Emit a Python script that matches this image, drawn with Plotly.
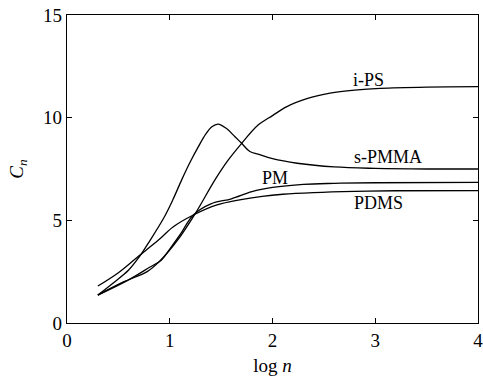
import plotly.graph_objects as go

ips_x = [0.3, 0.55, 0.78, 0.9, 1.1, 1.25, 1.44, 1.57, 1.70, 1.86, 2.0, 2.14, 2.35, 2.56, 2.8, 3.05, 3.5, 4.0]
ips_y = [1.36, 2.0, 2.5, 3.0, 4.2, 5.34, 6.97, 7.94, 8.75, 9.64, 10.1, 10.54, 10.95, 11.19, 11.34, 11.43, 11.49, 11.51]

spmma_x = [0.3, 0.45, 0.6, 0.7, 0.81, 0.94, 1.03, 1.116, 1.2, 1.28, 1.35, 1.41, 1.47, 1.55, 1.635, 1.70, 1.78, 1.86, 2.0, 2.24, 2.6, 3.0, 3.5, 4.0]
spmma_y = [1.36, 1.95, 2.58, 3.2, 4.04, 5.1, 6.0, 6.97, 7.85, 8.6, 9.2, 9.56, 9.69, 9.48, 9.07, 8.75, 8.35, 8.22, 8.0, 7.78, 7.6, 7.53, 7.5, 7.5]

pm_x = [0.3, 0.6, 0.8, 0.92, 1.0, 1.1, 1.23, 1.4, 1.6, 1.8, 2.0, 2.3, 2.6, 3.0, 4.0]
pm_y = [1.36, 2.1, 2.7, 3.07, 3.6, 4.3, 5.26, 5.8, 6.05, 6.4, 6.6, 6.75, 6.8, 6.83, 6.85]

pdms_x = [0.3, 0.5, 0.69, 0.89, 1.035, 1.23, 1.46, 1.68, 1.9, 2.1, 2.4, 2.8, 3.2, 4.0]
pdms_y = [1.8, 2.45, 3.23, 4.04, 4.69, 5.26, 5.75, 6.0, 6.17, 6.27, 6.35, 6.41, 6.44, 6.45]

labels = ["i-PS", "s-PMMA", "PM", "PDMS"]
label_x = [2.93, 3.12, 2.02, 3.03]
label_y = [11.84, 8.09, 7.06, 5.85]

FONT = "Times New Roman, Liberation Serif, serif"
fig = go.Figure()
for xs, ys in [(ips_x, ips_y), (spmma_x, spmma_y), (pm_x, pm_y), (pdms_x, pdms_y)]:
    fig.add_trace(go.Scatter(x=xs, y=ys, mode="lines",
                             line=dict(color="black", width=1.3, shape="spline", smoothing=1.0),
                             showlegend=False, hoverinfo="skip"))

for t, x, y in zip(labels, label_x, label_y):
    fig.add_annotation(x=x, y=y, text=t, showarrow=False,
                       font=dict(family=FONT, size=18, color="black"))

axis_common = dict(showline=True, linecolor="black", linewidth=1.2, mirror="ticks",
                   ticks="inside", ticklen=5, tickwidth=1.2, tickcolor="black",
                   showgrid=False, zeroline=False, ticklabeloverflow="allow", automargin=False,
                   tickfont=dict(family=FONT, size=19, color="black"))

fig.update_xaxes(range=[0, 4], tickvals=[0, 1, 2, 3, 4], ticktext=["0", "1", "2", "3", "4"],
                 title=dict(text="log <i>n</i>", font=dict(family=FONT, size=19, color="black"), standoff=8),
                 **axis_common)
fig.update_yaxes(range=[0, 15], tickvals=[0, 5, 10, 15], ticktext=["0", "5", "10", "15"],
                 title=dict(text="<i>C<sub>n</sub></i>", font=dict(family=FONT, size=19, color="black"), standoff=14),
                 **axis_common)

fig.update_layout(width=483, height=377, margin=dict(l=67, r=5, t=15, b=54, autoexpand=False),
                  font=dict(family=FONT, color="black"),
                  plot_bgcolor="white", paper_bgcolor="white")

fig.write_html("out.html")
